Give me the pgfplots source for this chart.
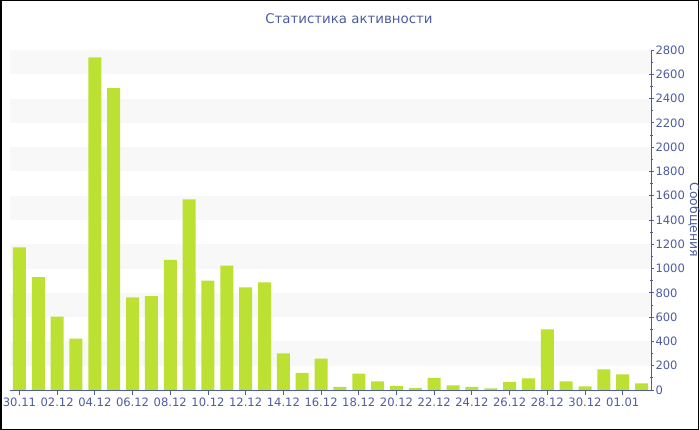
\documentclass[border=0pt]{standalone}
\usepackage{pgfplots}
\pgfplotsset{compat=1.18}
\usepackage{fontspec}
\setmainfont{DejaVu Sans}
\definecolor{barc}{HTML}{BCE132}
\definecolor{axc}{HTML}{4D5CA0}
\definecolor{stripe}{HTML}{F8F8F8}
\begin{document}
\begin{tikzpicture}
\useasboundingbox (0,0) rectangle (700bp,430bp);
\draw[black, line width=1.5bp] (0.75bp,0.75bp) rectangle (698.5bp,429.25bp);
\begin{axis}[
  at={(10bp,40bp)}, anchor=south west,
  scale only axis, width=641bp, height=340bp,
  xmin=-0.5, xmax=33.5, ymin=0, ymax=2800,
  axis x line*=bottom, axis y line*=right,
  x axis line style={-}, y axis line style={-},
  axis line style={axc, line width=0.8bp},
  tick style={axc, line width=0.8bp},
  ytick={0,200,...,2800}, minor y tick num=1,
  ytick align=center,
  major tick length=5bp, minor tick length=3bp,
  xtick={0,2,...,32},
  xticklabels={30.11,02.12,04.12,06.12,08.12,10.12,12.12,14.12,16.12,18.12,20.12,22.12,24.12,26.12,28.12,30.12,01.01},
  xtick align=outside,
  tick label style={font=\fontsize{11.6}{13}\selectfont, text=axc},
  yticklabel style={anchor=west, xshift=-1.5bp},
  xticklabel style={yshift=1bp},
  /pgf/number format/assume math mode=true,
  /pgf/number format/1000 sep={},
  title={Статистика активности},
  title style={at={(axis description cs:0.5,1)}, xshift=18.5bp, yshift=25bp, anchor=center, font=\fontsize{13.4}{15}\selectfont, text=axc},
  ylabel={Сообщения},
  every axis y label/.style={at={(axis description cs:1,0.5)}, xshift=43bp, rotate=-90, anchor=center, font=\fontsize{12.5}{14}\selectfont, text=axc},
  clip=false,
]
\addplot[fill=stripe, draw=none, forget plot] coordinates {(-0.5,200) (33.5,200) (33.5,400) (-0.5,400)} --cycle;
\addplot[fill=stripe, draw=none, forget plot] coordinates {(-0.5,600) (33.5,600) (33.5,800) (-0.5,800)} --cycle;
\addplot[fill=stripe, draw=none, forget plot] coordinates {(-0.5,1000) (33.5,1000) (33.5,1200) (-0.5,1200)} --cycle;
\addplot[fill=stripe, draw=none, forget plot] coordinates {(-0.5,1400) (33.5,1400) (33.5,1600) (-0.5,1600)} --cycle;
\addplot[fill=stripe, draw=none, forget plot] coordinates {(-0.5,1800) (33.5,1800) (33.5,2000) (-0.5,2000)} --cycle;
\addplot[fill=stripe, draw=none, forget plot] coordinates {(-0.5,2200) (33.5,2200) (33.5,2400) (-0.5,2400)} --cycle;
\addplot[fill=stripe, draw=none, forget plot] coordinates {(-0.5,2600) (33.5,2600) (33.5,2800) (-0.5,2800)} --cycle;
\addplot[ybar, bar width=13bp, fill=barc, draw=none] coordinates {
(0,1175) (1,930) (2,604) (3,423) (4,2740) (5,2485) (6,763) (7,774)
(8,1071) (9,1570) (10,900) (11,1024) (12,845) (13,887) (14,302) (15,140)
(16,258) (17,25) (18,134) (19,71) (20,33) (21,16) (22,99) (23,38)
(24,25) (25,14) (26,66) (27,96) (28,500) (29,71) (30,30) (31,170)
(32,129) (33,55)
};
\end{axis}
\end{tikzpicture}
\end{document}
